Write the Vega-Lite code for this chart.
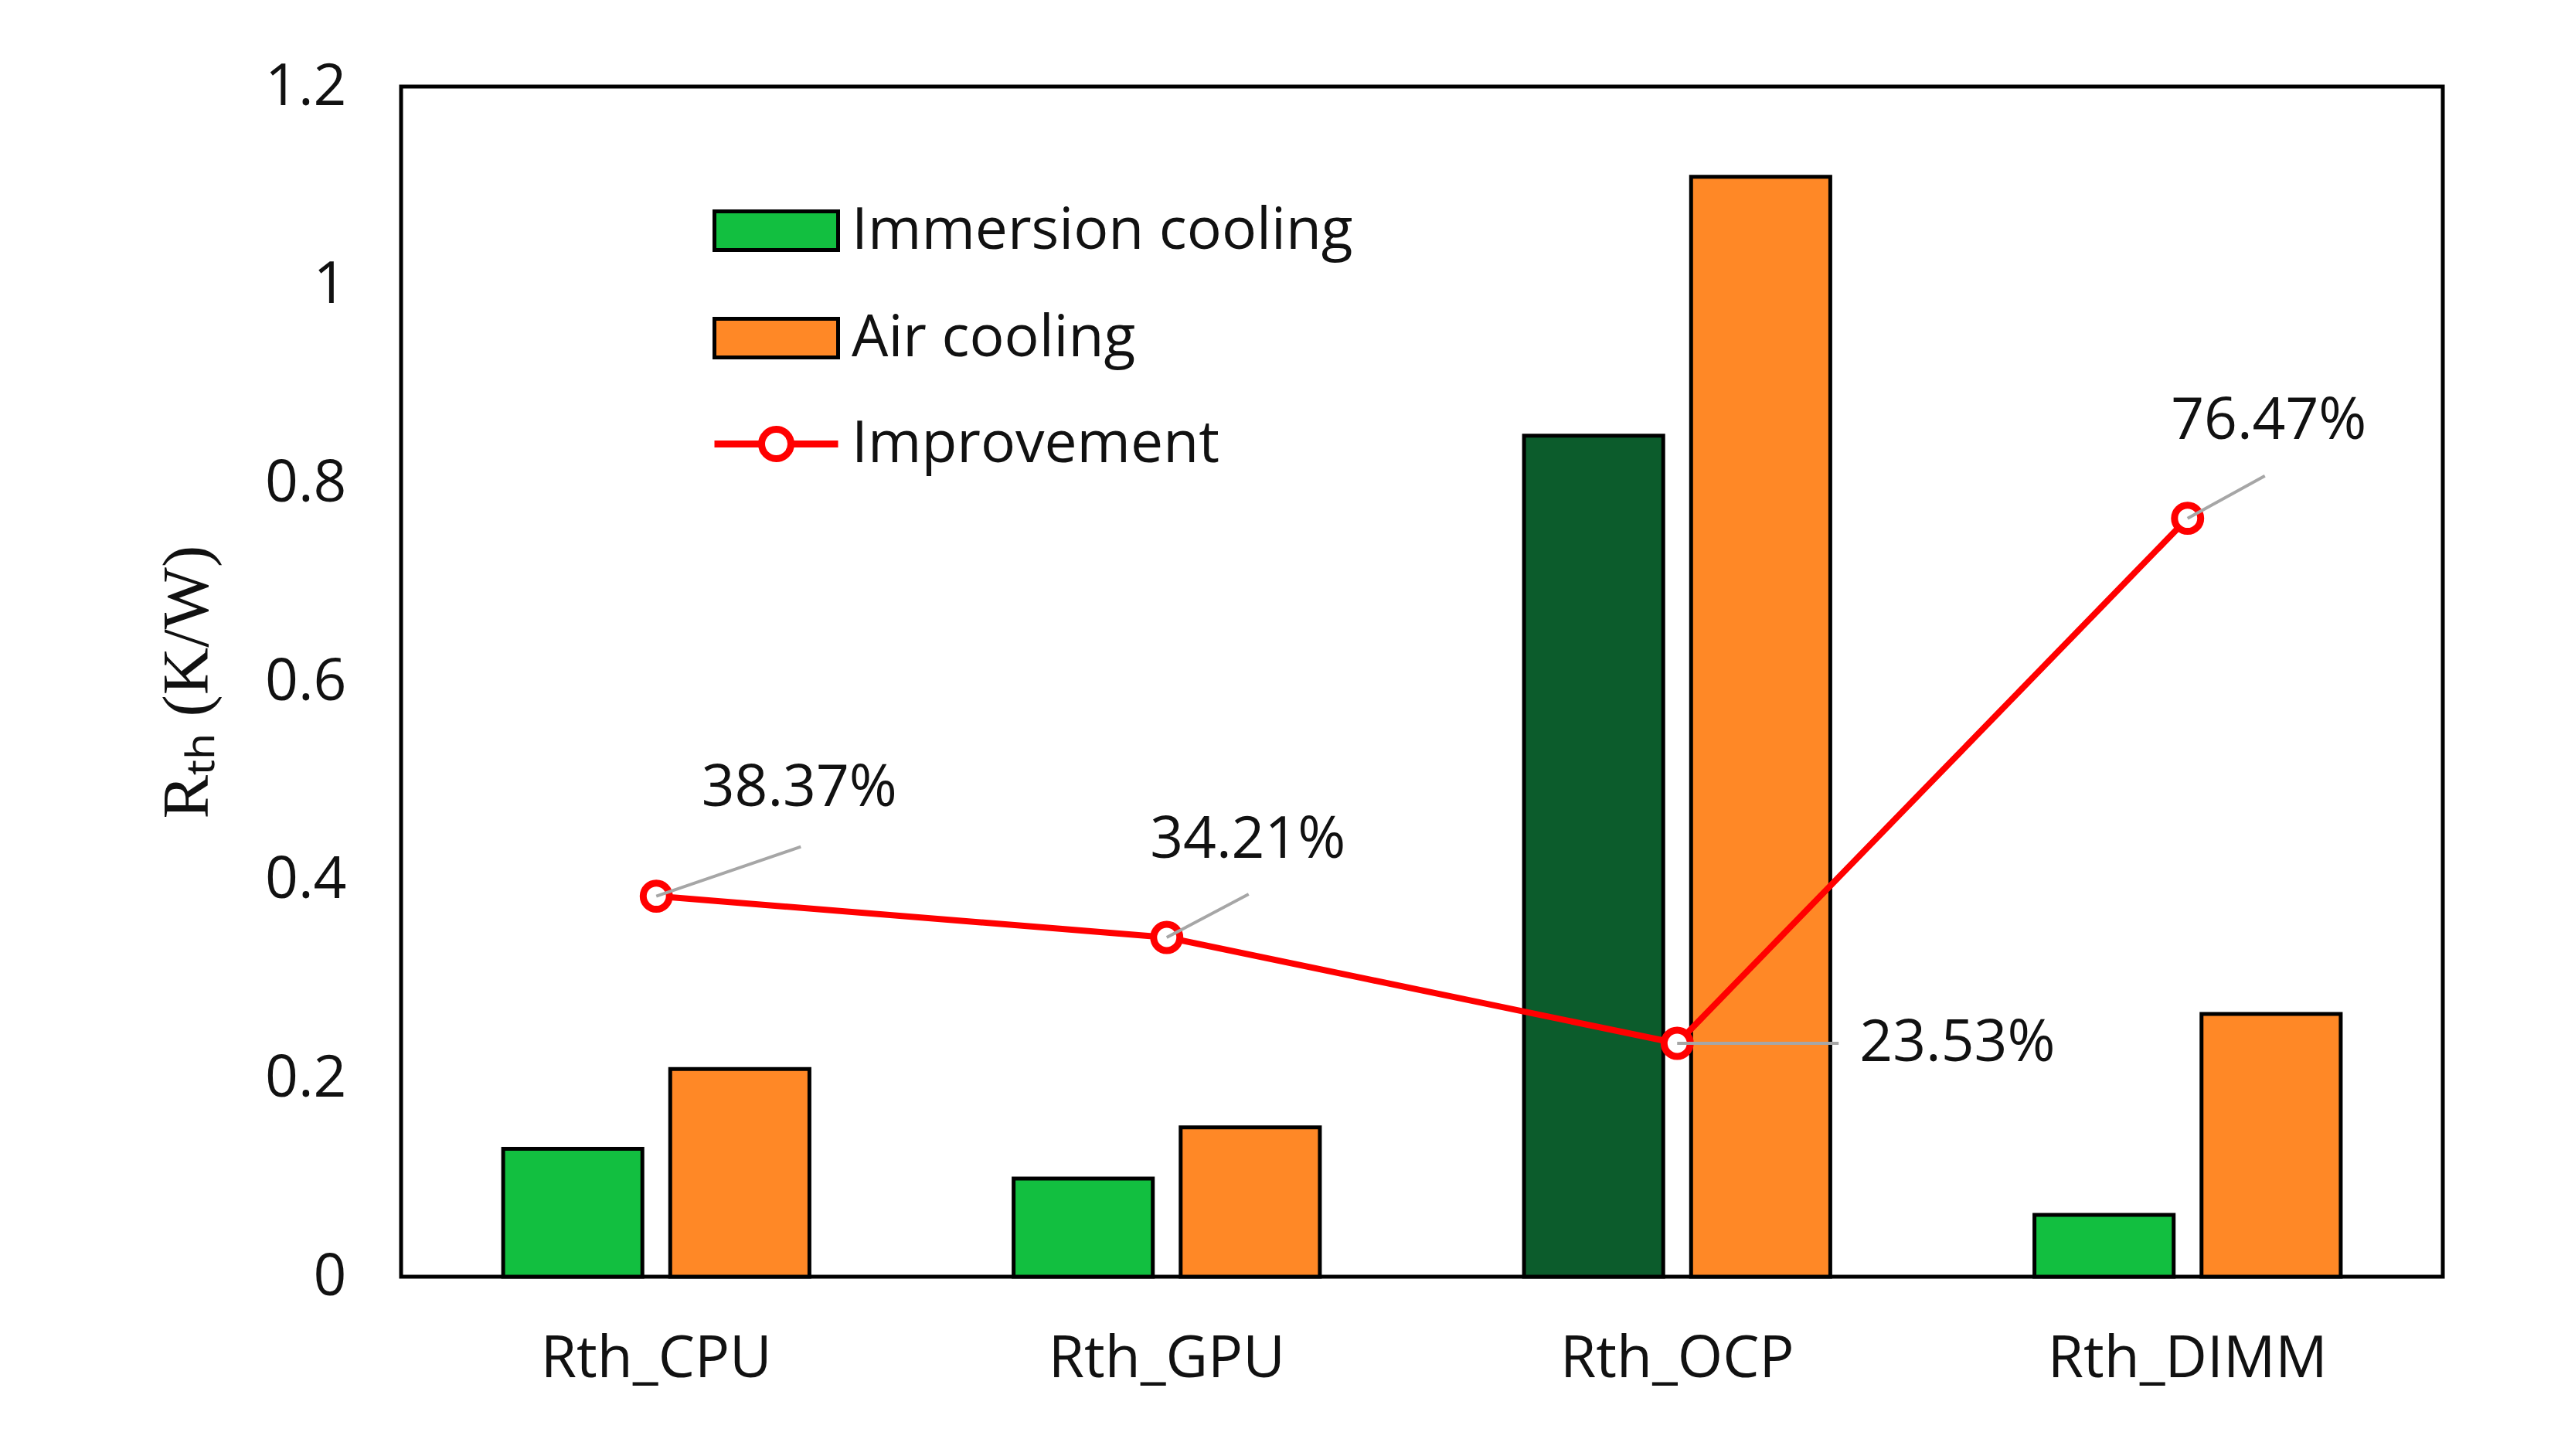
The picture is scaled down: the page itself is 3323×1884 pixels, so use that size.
{
  "$schema": "https://vega.github.io/schema/vega-lite/v6.json",
  "width": 2642,
  "height": 1540,
  "autosize": {"type": "none"},
  "padding": {"left": 519, "top": 112, "right": 162, "bottom": 232},
  "background": "white",
  "datasets": {
    "bars": [
      {"cat": "Rth_CPU", "series": "Immersion cooling", "value": 0.129},
      {"cat": "Rth_CPU", "series": "Air cooling", "value": 0.2095},
      {"cat": "Rth_GPU", "series": "Immersion cooling", "value": 0.099},
      {"cat": "Rth_GPU", "series": "Air cooling", "value": 0.1505},
      {"cat": "Rth_OCP", "series": "Immersion cooling", "value": 0.848},
      {"cat": "Rth_OCP", "series": "Air cooling", "value": 1.109},
      {"cat": "Rth_DIMM", "series": "Immersion cooling", "value": 0.0624},
      {"cat": "Rth_DIMM", "series": "Air cooling", "value": 0.265}
    ],
    "improvement": [
      {"cat": "Rth_CPU", "series": "Improvement", "value": 0.3837},
      {"cat": "Rth_GPU", "series": "Improvement", "value": 0.3421},
      {"cat": "Rth_OCP", "series": "Improvement", "value": 0.2353},
      {"cat": "Rth_DIMM", "series": "Improvement", "value": 0.7647}
    ]
  },
  "encoding": {
    "x": {
      "field": "cat",
      "type": "nominal",
      "sort": ["Rth_CPU", "Rth_GPU", "Rth_OCP", "Rth_DIMM"],
      "scale": {"paddingInner": 0.4, "paddingOuter": 0.2},
      "axis": {
        "title": null,
        "labelAngle": 0,
        "labelLimit": 0,
        "ticks": false,
        "domain": false,
        "labelPadding": 70,
        "labelFont": "Open Sans",
        "labelFontSize": 75,
        "labelColor": "#111111"
      }
    },
    "y": {
      "field": "value",
      "type": "quantitative",
      "scale": {"domain": [0, 1.2], "nice": false},
      "axis": {
        "title": "Rₜₕ  (K/W)",
        "values": [0, 0.2, 0.4, 0.6, 0.8, 1, 1.2],
        "format": "~g",
        "ticks": false,
        "domain": false,
        "grid": false,
        "labelPadding": 71,
        "labelFont": "Open Sans",
        "labelFontSize": 75,
        "labelColor": "#111111",
        "titleFont": "Liberation Serif",
        "titleFontSize": 85,
        "titleFontWeight": "normal",
        "titleColor": "#111111",
        "titlePadding": 56
      }
    }
  },
  "layer": [
    {
      "data": {"name": "bars"},
      "mark": {"type": "bar", "stroke": "black", "strokeWidth": 5, "opacity": 1},
      "encoding": {
        "xOffset": {
          "field": "series",
          "sort": ["Immersion cooling", "Air cooling"],
          "scale": {"paddingInner": 0.1667}
        },
        "fill": {
          "condition": {
            "test": "datum.cat === 'Rth_OCP' && datum.series === 'Immersion cooling'",
            "value": "#0c5c2c"
          },
          "field": "series",
          "type": "nominal",
          "scale": {
            "domain": ["Immersion cooling", "Air cooling"],
            "range": ["#12bf40", "#ff8826"]
          },
          "legend": {
            "title": null,
            "orient": "none",
            "legendX": 393,
            "legendY": 149,
            "padding": 0,
            "symbolType": "M-3.2,-1H3.2V1H-3.2Z",
            "symbolSize": 2500,
            "symbolStrokeWidth": 5,
            "symbolStrokeColor": "black",
            "symbolOffset": 55,
            "labelOffset": 60,
            "rowPadding": 63,
            "labelFont": "Open Sans",
            "labelFontSize": 75,
            "labelColor": "#111111",
            "labelLimit": 0,
            "encode": {
              "symbols": {
                "update": {
                  "stroke": {"value": "black"},
                  "strokeWidth": {"value": 5},
                  "opacity": {"value": 1},
                  "fillOpacity": {"value": 1}
                }
              }
            }
          }
        }
      }
    },
    {
      "data": {"name": "improvement"},
      "mark": {"type": "line", "strokeWidth": 8},
      "encoding": {
        "stroke": {
          "field": "series",
          "type": "nominal",
          "scale": {"domain": ["Improvement"], "range": ["#ff0000"]},
          "legend": {
            "title": null,
            "orient": "none",
            "legendX": 393,
            "legendY": 425,
            "padding": 0,
            "symbolType": "M-3.2,0H-0.76M0.76,0H3.2M0.76,0A0.76,0.76,0,1,1,-0.76,0A0.76,0.76,0,1,1,0.76,0",
            "symbolSize": 2500,
            "symbolStrokeWidth": 9,
            "symbolFillColor": "white",
            "symbolOffset": 55,
            "labelOffset": 60,
            "rowPadding": 63,
            "labelFont": "Open Sans",
            "labelFontSize": 75,
            "labelColor": "#111111",
            "labelLimit": 0,
            "encode": {
              "symbols": {
                "update": {
                  "fill": {"value": "white"},
                  "strokeWidth": {"value": 9},
                  "opacity": {"value": 1},
                  "fillOpacity": {"value": 1}
                }
              }
            }
          }
        }
      }
    },
    {
      "data": {"name": "improvement"},
      "mark": {"type": "point", "shape": "circle", "filled": false, "fill": "white", "size": 1150, "strokeWidth": 9, "opacity": 1},
      "encoding": {
        "stroke": {"field": "series", "type": "nominal"}
      }
    },
    {
      "data": {"name": "improvement"},
      "mark": {"type": "point", "filled": false, "stroke": "#a6a6a6", "strokeWidth": 4, "size": 40000, "opacity": 1},
      "encoding": {
        "shape": {
          "field": "cat",
          "type": "nominal",
          "scale": {
            "domain": ["Rth_CPU", "Rth_GPU", "Rth_OCP", "Rth_DIMM"],
            "range": ["M0,0L1.87,-0.64", "M0,0L1.06,-0.56", "M0,0L2.09,0", "M0,0L1.0,-0.55"]
          },
          "legend": null
        }
      }
    },
    {
      "data": {"name": "improvement"},
      "transform": [{"filter": "datum.cat === 'Rth_CPU'"}],
      "mark": {"type": "text", "font": "Open Sans", "fontSize": 75, "color": "#111111", "align": "center", "baseline": "middle", "dx": 185, "dy": -140},
      "encoding": {"text": {"field": "value", "format": ".2%"}}
    },
    {
      "data": {"name": "improvement"},
      "transform": [{"filter": "datum.cat === 'Rth_GPU' || datum.cat === 'Rth_DIMM'"}],
      "mark": {"type": "text", "font": "Open Sans", "fontSize": 75, "color": "#111111", "align": "center", "baseline": "middle", "dx": 105, "dy": -126},
      "encoding": {"text": {"field": "value", "format": ".2%"}}
    },
    {
      "data": {"name": "improvement"},
      "transform": [{"filter": "datum.cat === 'Rth_OCP'"}],
      "mark": {"type": "text", "font": "Open Sans", "fontSize": 75, "color": "#111111", "align": "left", "baseline": "middle", "dx": 236, "dy": 0},
      "encoding": {"text": {"field": "value", "format": ".2%"}}
    }
  ],
  "config": {
    "view": {"stroke": "black", "strokeWidth": 5}
  }
}
